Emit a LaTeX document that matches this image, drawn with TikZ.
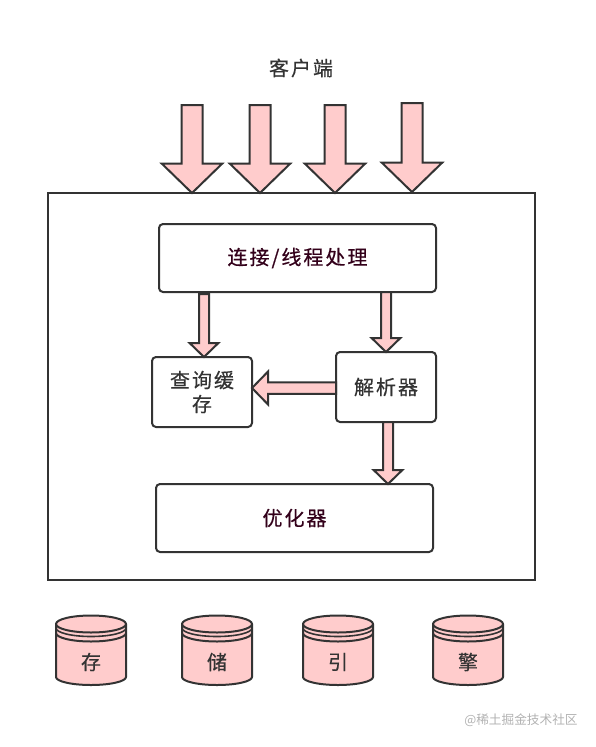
\documentclass[tikz,border=0pt]{standalone}
\usepackage{fontspec}
\setmainfont[LetterSpace=10,FakeBold=0.5]{Noto Sans CJK SC}
\newfontfamily\markfont{Noto Sans CJK SC}
\usepackage{tikz}
\usetikzlibrary{arrows.meta,positioning,calc}
\definecolor{inkdark}{HTML}{333333}
\definecolor{inkwine}{HTML}{33001A}
\definecolor{pinkfill}{HTML}{FFCCCC}

\begin{document}
\begin{tikzpicture}[x=0.75pt,y=-0.75pt,
  every node/.style={text=inkdark,font=\fontsize{15}{18}\selectfont},
  frame/.style={draw=inkdark,line width=1.5pt,minimum width=365.25pt,minimum height=290.25pt,inner sep=0},
  stage/.style={draw=inkdark,line width=1.5pt,rounded corners=3pt,fill=white,align=center,inner sep=0},
  wide/.style={stage,minimum width=207.75pt,minimum height=51pt,text=inkwine},
  small/.style={stage,minimum width=75pt,minimum height=52.5pt},
  flow/.style={draw=inkdark,fill=pinkfill,line width=1.5pt,line join=miter,
    to path={
      ($(\tikztostart)!#1*0.1875pt!90:(\tikztotarget)$) --
      ($(\tikztotarget)!#1*0.525pt!(\tikztostart)!#1*0.1875pt!-90:(\tikztostart)$) --
      ($(\tikztotarget)!#1*0.525pt!(\tikztostart)!#1*0.54pt!-90:(\tikztostart)$) --
      (\tikztotarget) --
      ($(\tikztotarget)!#1*0.525pt!(\tikztostart)!#1*0.54pt!90:(\tikztostart)$) --
      ($(\tikztotarget)!#1*0.525pt!(\tikztostart)!#1*0.1875pt!90:(\tikztostart)$) --
      ($(\tikztostart)!#1*0.1875pt!-90:(\tikztotarget)$) -- cycle}},
  drum/.pic={
    \draw[draw=inkdark,fill=pinkfill,line width=1.5pt]
      (-35,-37) arc[start angle=180,end angle=360,x radius=35,y radius=8.5]
      -- (35,16) arc[start angle=0,end angle=180,x radius=35,y radius=8] -- cycle;
    \draw[draw=inkdark,line width=1.5pt] (-35,-37) arc[start angle=180,end angle=0,x radius=35,y radius=8.5];
    \draw[draw=inkdark,line width=1.2pt] (-35,-33) arc[start angle=180,end angle=0,x radius=35,y radius=8.5];
    \draw[draw=inkdark,line width=1.5pt] (-35,-28) arc[start angle=180,end angle=0,x radius=35,y radius=8.5];
  }]
\useasboundingbox (0,0) rectangle (596,747);

\node[frame] (server) at (291.5,386.5) {};
\node (client) at (301,68) {客户端};

\node[wide] (conn) at (297.5,258) {连接/线程处理};
\node[small] (cache) at (202,392) {查询缓\\存};
\node[small] (parser) at (386,387) {解析器};
\node[wide] (optim) at (294.5,518) {优化器};

% client arrows
\coordinate (in1) at (192,105);
\coordinate (in2) at (260,105);
\coordinate (in3) at (335,105);
\coordinate (in4) at (412,103);
\coordinate (out1) at (192,193);
\coordinate (out2) at (260,193);
\coordinate (out3) at (335,193);
\coordinate (out4) at (412,192);
\foreach \n in {1,...,4}
  \draw[flow=42] (in\n) to (out\n);

% arrows between stages
\coordinate (c1) at (204,294);
\coordinate (c2) at (204,357);
\coordinate (p1) at (386,292);
\coordinate (p2) at (386,352);
\coordinate (q1) at (336,388);
\coordinate (q2) at (252,388);
\coordinate (r1) at (388,422);
\coordinate (r2) at (388,484);
\draw[flow=20] (c1) to (c2);
\draw[flow=20] (p1) to (p2);
\draw[flow=23] (q1) to (q2);
\draw[flow=20] (r1) to (r2);

% storage engine
\foreach \x/\t/\n in {91/存/s1,217/储/s2,338/引/s3,468/擎/s4}{
  \pic at (\x,661) {drum};
  \node (\n) at (\x,662) {\t};
}

\node[text=gray!60,font=\fontsize{9.5}{12}\selectfont\markfont] (mark) at (521,720) {@稀土掘金技术社区};
\end{tikzpicture}
\end{document}
